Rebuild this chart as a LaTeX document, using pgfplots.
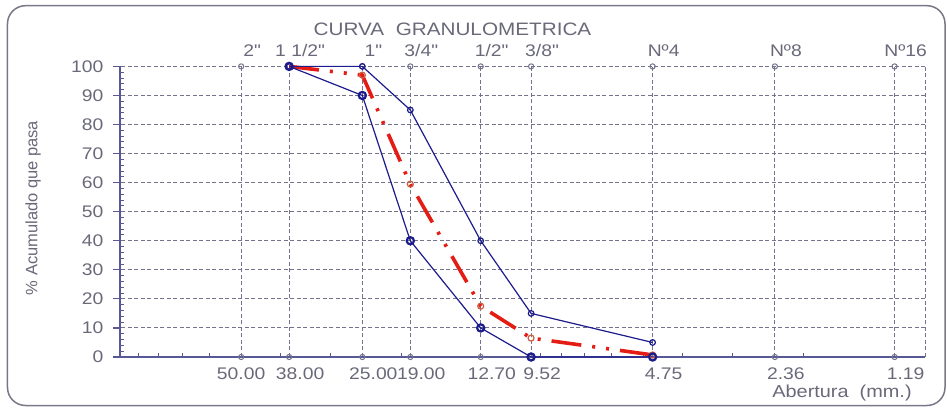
\documentclass[border=0pt]{standalone}
\usepackage{pgfplots}
\pgfplotsset{compat=1.18}
\usepackage{fontspec}
\setmainfont[FakeStretch=1.15, Ligatures=TeXOff]{Liberation Sans}
\newfontfamily\ylfont{Liberation Sans}
\definecolor{txtgray}{RGB}{105,105,122}
\definecolor{axisblue}{RGB}{88,88,150}
\definecolor{gridgray}{RGB}{115,115,140}
\definecolor{navy}{RGB}{28,28,140}
\definecolor{dred}{RGB}{228,28,20}
\definecolor{markred}{RGB}{205,95,65}
\definecolor{framegray}{RGB}{120,120,135}
\begin{document}
\begin{tikzpicture}
\useasboundingbox (-120bp,-52bp) rectangle (827bp,357bp);
\draw[framegray, line width=1.5bp, rounded corners=18bp] (-112.5bp,-48.5bp) rectangle (825bp,351.3bp);
\begin{axis}[
  at={(0,0)}, anchor=south west,
  scale only axis, width=805bp, height=290.6bp,
  xmode=log, x dir=reverse, xmin=1, xmax=100,
  ymin=0, ymax=100,
  axis lines=left,
  axis line style={-, axisblue, line width=1.3bp},
  xtick={50,38,25,19,12.7,9.52,4.75,2.36,1.19},
  xticklabels={50.00\hspace*{22bp},38.00,25.00,19.00,12.70,9.52,4.75,2.36,1.19},
  minor xtick={2,3,4,5,6,7,8,9,20,30,40,60,70,80,90},
  ytick={0,10,...,100},
  minor ytick={2,4,6,8,12,14,16,18,22,24,26,28,32,34,36,38,42,44,46,48,52,54,56,58,62,64,66,68,72,74,76,78,82,84,86,88,92,94,96,98},
  tick align=outside,
  major tick length=7bp, minor tick length=4bp,
  major x tick style={draw=none},
  minor x tick style={yshift=4bp, axisblue, line width=1bp},
  minor y tick style={xshift=4bp, axisblue, line width=1bp},
  major y tick style={axisblue, line width=1.2bp},
  grid=major,
  major grid style={gridgray, line width=0.9bp, dash pattern=on 4bp off 2.5bp},
  extra x ticks={1}, extra x tick labels={},
  extra x tick style={grid=major, major tick length=0pt},
  /pgf/number format/assume math mode=true,
  tick label style={font=\fontsize{16.8bp}{18bp}\selectfont, text=txtgray},
  xticklabel style={xshift=11bp, yshift=0bp},
  yticklabel style={xshift=-6bp},
  clip=false,
]
\addplot[only marks, mark=o, mark size=2.6bp, gridgray, line width=1bp] coordinates {
 (50,0)(38,0)(25,0)(19,0)(12.7,0)(9.52,0)(4.75,0)(2.36,0)(1.19,0)
 (50,100)(38,100)(25,100)(19,100)(12.7,100)(9.52,100)(4.75,100)(2.36,100)(1.19,100)};
\addplot[dred, line width=3.6bp, dash pattern=on 30bp off 11bp on 3bp off 11bp on 3bp off 11bp,
  mark=o, mark size=3bp, mark options={solid, draw=markred, line width=1.2bp}] coordinates {
 (38,100)(25,97)(19,59.5)(12.7,17.5)(9.52,6.5)(4.75,0.7)};
\addplot[navy, line width=1.2bp, mark=o, mark size=2.8bp, mark options={line width=1.2bp}] coordinates {
 (38,100)(25,100)(19,85)(12.7,40)(9.52,15)(4.75,5)};
\addplot[navy, line width=1.2bp, mark=o, mark size=3.6bp, mark options={line width=2.2bp}] coordinates {
 (38,100)(25,90)(19,40)(12.7,10)(9.52,0)(4.75,0)};
\end{axis}
\begin{axis}[
  at={(0,0)}, anchor=south west,
  scale only axis, width=805bp, height=290.6bp,
  xmode=log, x dir=reverse, xmin=1, xmax=100,
  ymin=0, ymax=100,
  hide y axis, axis x line*=top,
  axis line style={draw=none},
  xtick={50,38,25,19,12.7,9.52,4.75,2.36,1.19},
  xticklabels={2",1 1/2",1",3/4",1/2",3/8",Nº4,Nº8,Nº16},
  minor xtick={}, major tick length=0pt,
  tick label style={font=\fontsize{16.8bp}{18bp}\selectfont, text=txtgray},
  xticklabel style={xshift=11bp, yshift=6bp},
]
\end{axis}
\node[text=txtgray, font=\fontsize{18bp}{20bp}\selectfont] at (332.5bp,327.5bp) {CURVA\ \ GRANULOMETRICA};
\node[text=txtgray, font=\fontsize{17.3bp}{18bp}\selectfont] at (722bp,-36bp) {Abertura\ \ (mm.)};
\node[text=txtgray, font=\ylfont\fontsize{16.5bp}{18bp}\selectfont, rotate=90] at (-87bp,149bp) {\% Acumulado que pasa};
\end{tikzpicture}
\end{document}
